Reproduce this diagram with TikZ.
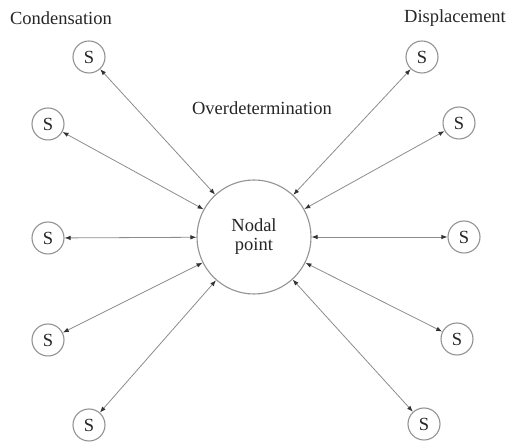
\documentclass[tikz,border=0pt]{standalone}
\usepackage{fontspec}
\setmainfont{Liberation Serif}
\usepackage{tikz}
\usetikzlibrary{arrows.meta,positioning}

\tikzset{
  kreis/.style={circle,draw=gray!85,line width=1.1pt,fill=white,inner sep=0pt},
  pfeil/.style={gray!90,line width=0.8pt,{Latex[length=6pt,width=4.5pt,color=black!80]}-{Latex[length=6pt,width=4.5pt,color=black!80]}},
  beschr/.style={font=\fontsize{18.5}{21}\selectfont,text=black!85}
}

\begin{document}
\begin{tikzpicture}[x=1pt,y=-1pt]
\useasboundingbox (0,0) rectangle (507,443);
%Knotenpunkt in der Mitte
\node[kreis,minimum size=114pt,beschr,align=center] (np) at (254,237) {Nodal\\[-2pt]point};
%die S-Kreise links und rechts
\foreach \name/\x/\y in {s1/89/57,s2/48/124,s3/48/238,s4/48/340,s5/89/425,
                         s6/422/57,s7/459/123,s8/464/237,s9/457/339,s10/424/424}{
  \node[kreis,minimum size=32pt,beschr] (\name) at (\x,\y) {S};
}
\foreach \name in {s1,s2,s3,s4,s5,s6,s7,s8,s9,s10}{
  \draw[pfeil] (\name) -- (np);
}
%Beschriftungen
\node[beschr] (kond) at (61,18) {Condensation};
\node[beschr] (versch) at (455,18) {Displacement};
\node[beschr] (ueber) at (262,108) {Overdetermination};
\end{tikzpicture}
\end{document}
